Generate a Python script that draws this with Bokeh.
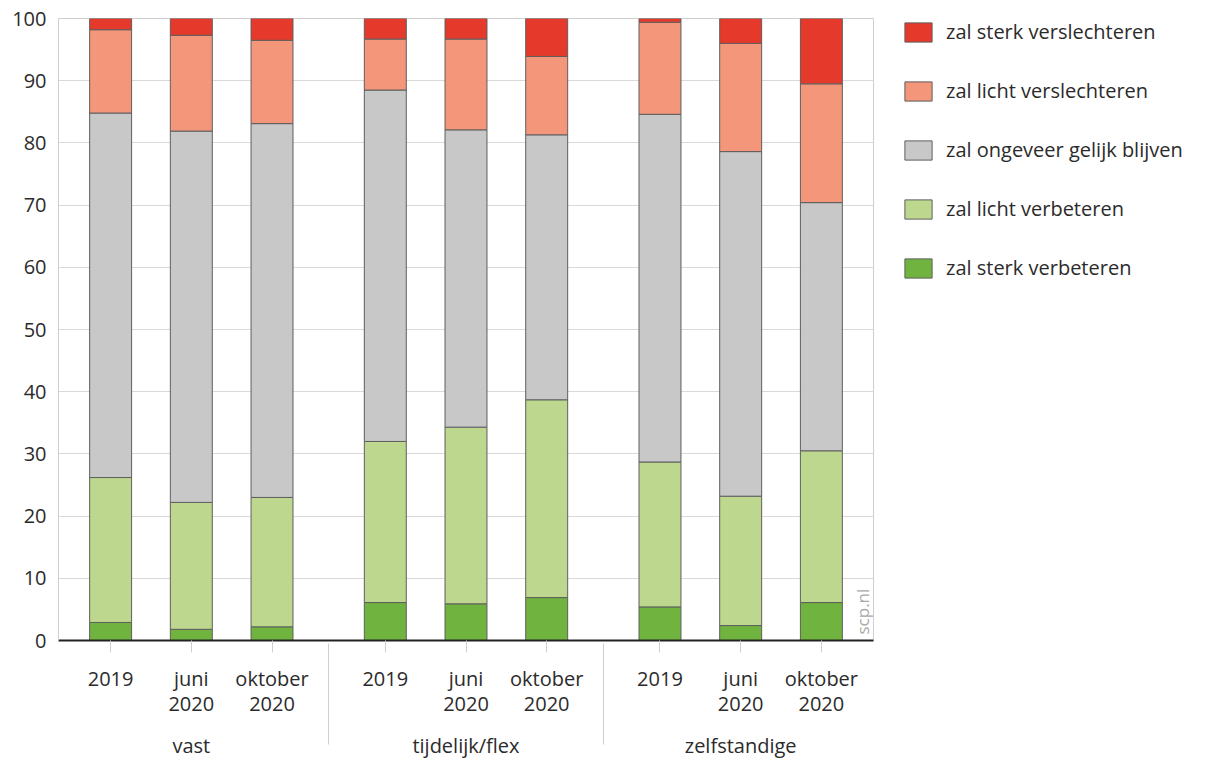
import math
from bokeh.plotting import figure
from bokeh.models import ColumnDataSource, FactorRange, Legend, LegendItem, Label, FixedTicker
from bokeh.embed import file_html
from bokeh.resources import INLINE

groups = ["vast", "tijdelijk/flex", "zelfstandige"]
periods = ["2019", "juni\n2020", "oktober\n2020"]
series = ["zal sterk verbeteren", "zal licht verbeteren", "zal ongeveer gelijk blijven",
          "zal licht verslechteren", "zal sterk verslechteren"]
colors = ["#70b43f", "#bdd88e", "#c8c8c8", "#f4967a", "#e53a2b"]

# values per bar: vast (2019, juni, okt), tijdelijk/flex (...), zelfstandige (...)
sterk_verbeteren = [2.9, 1.8, 2.2, 6.1, 5.9, 6.9, 5.4, 2.4, 6.1]
licht_verbeteren = [23.3, 20.4, 20.8, 25.9, 28.4, 31.8, 23.3, 20.8, 24.4]
gelijk_blijven = [58.6, 59.7, 60.1, 56.5, 47.8, 42.6, 55.9, 55.4, 39.9]
licht_verslechteren = [13.4, 15.4, 13.4, 8.2, 14.6, 12.6, 14.8, 17.4, 19.1]
sterk_verslechteren = [1.8, 2.7, 3.5, 3.3, 3.3, 6.1, 0.6, 4.0, 10.5]
y_ticks = [0, 10, 20, 30, 40, 50, 60, 70, 80, 90, 100]

FONT = "Open Sans"
TXT = "#2b2b2b"

factors = [(g, s) for g in groups for s in periods]
source = ColumnDataSource(data=dict(
    x=factors,
    **{series[0]: sterk_verbeteren, series[1]: licht_verbeteren, series[2]: gelijk_blijven,
       series[3]: licht_verslechteren, series[4]: sterk_verslechteren}))

x_range = FactorRange(*factors, factor_padding=0.0, group_padding=0.404,
                      range_padding=0.146, range_padding_units="absolute")

p = figure(x_range=x_range, y_range=(0, 100), output_backend="svg", toolbar_location=None,
           frame_width=815, frame_height=622,
           min_border_left=58, min_border_top=18, min_border_right=325, min_border_bottom=100)

renderers = p.vbar_stack(series, x="x", width=0.52, color=colors, source=source,
                         line_color="#5e5e5e", line_width=1)

p.background_fill_color = "white"
p.border_fill_color = "white"
p.outline_line_color = "#cfcfcf"

p.xgrid.grid_line_color = None
p.ygrid.grid_line_color = "#d9d9d9"
p.ygrid.ticker = FixedTicker(ticks=y_ticks)

p.yaxis.ticker = FixedTicker(ticks=y_ticks)
p.yaxis.axis_line_color = "#cfcfcf"
p.yaxis.major_tick_line_color = None
p.yaxis.minor_tick_line_color = None
p.yaxis.major_label_standoff = 6
p.yaxis.major_label_text_font = FONT
p.yaxis.major_label_text_font_size = "20px"
p.yaxis.major_label_text_color = TXT

xa = p.xaxis[0]
xa.axis_line_color = "#222222"
xa.axis_line_width = 2
xa.major_tick_line_color = "#cfcfcf"
xa.major_tick_out = 12
xa.major_tick_in = 0
xa.major_label_standoff = 12
xa.major_label_text_font = FONT
xa.major_label_text_font_size = "20px"
xa.major_label_text_line_height = 0.95
xa.major_label_text_color = TXT
xa.group_text_font = FONT
xa.group_text_font_size = "20px"
xa.group_text_font_style = "normal"
xa.group_text_line_height = 0.9
xa.group_text_color = TXT
xa.separator_line_color = "#cfcfcf"
xa.separator_line_width = 1

items = [LegendItem(label=series[i], renderers=[renderers[i]]) for i in range(4, -1, -1)]
legend = Legend(items=items, location=(28, 359), margin=0, padding=0,
                glyph_width=34, glyph_height=24, label_height=24, spacing=32,
                label_standoff=11, label_text_font=FONT, label_text_font_size="20px",
                label_text_color=TXT, border_line_color=None, background_fill_alpha=0)
p.add_layout(legend, "right")

wm = Label(x=804, y=6, x_units="screen", y_units="screen", text="scp.nl", angle=math.pi / 2,
           text_font=FONT, text_font_size="17px", text_color="#a8a8a8",
           text_baseline="alphabetic", text_align="left")
p.add_layout(wm)

open("out.html", "w").write(file_html(p, INLINE))
